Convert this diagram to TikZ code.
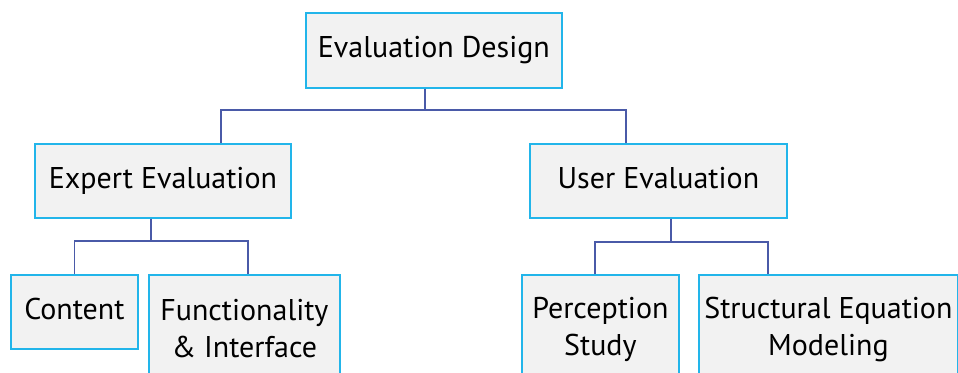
\documentclass[tikz,border=0pt]{standalone}
\usepackage{fontspec}
\setmainfont{PT Sans}
\definecolor{boxblue}{HTML}{22B5EA}
\definecolor{boxgray}{HTML}{F2F2F2}
\definecolor{lineblue}{HTML}{4A5AA8}
\begin{document}
\begin{tikzpicture}[x=1pt,y=-1pt,
  box/.style={draw=boxblue, line width=1.8pt, fill=boxgray, anchor=north west, inner sep=0pt, align=center, font=\fontsize{30}{37}\selectfont},
  conn/.style={draw=lineblue, line width=1.8pt}]
\useasboundingbox (0,0) rectangle (958,372);
\clip (0,0) rectangle (958,372);
\fill[white] (0,0) rectangle (958,372);
\node[box, minimum width=256pt, minimum height=75pt] (ed) at (305,12) {Evaluation Design};
\node[box, minimum width=256pt, minimum height=74pt] (ee) at (34,143) {Expert Evaluation};
\node[box, minimum width=257pt, minimum height=74pt] (ue) at (529,143) {User Evaluation\vphantom{p}};
\node[box, minimum width=127pt, minimum height=74pt] (ct) at (10,274) {Content\vphantom{p}};
\node[box, minimum width=191pt, minimum height=108pt] (fi) at (148,274) {Functionality\\ \& Interface};
\node[box, minimum width=157pt, minimum height=110pt] (ps) at (521,274) {Perception\\ Study};
\node[box, minimum width=259pt, minimum height=110pt] (se) at (698,274) {Structural Equation\\ Modeling};
\draw[conn] ([xshift=-9pt]ed.south) -- ++(0,21) -| ([xshift=58pt]ee.north);
\draw[conn] ([xshift=-9pt]ed.south) -- ++(0,21) -| ([xshift=-32.5pt]ue.north);
\draw[conn] ([xshift=-12pt]ee.south) -- ++(0,22) -| (ct.north);
\draw[conn] ([xshift=-12pt]ee.south) -- ++(0,22) -| ([xshift=3.5pt]fi.north);
\draw[conn] ([xshift=12.5pt]ue.south) -- ++(0,23) -| ([xshift=-5.5pt]ps.north);
\draw[conn] ([xshift=12.5pt]ue.south) -- ++(0,23) -| ([xshift=-60.5pt]se.north);
\end{tikzpicture}
\end{document}
